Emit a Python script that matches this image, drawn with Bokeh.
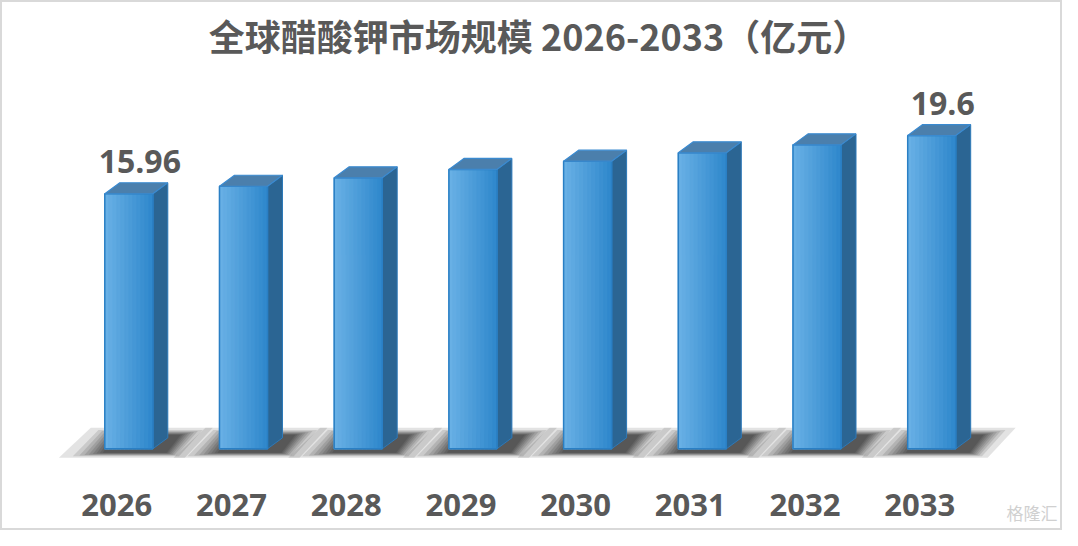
from bokeh.plotting import figure
from bokeh.models import Range1d, Label
from bokeh.core.properties import value
from bokeh.embed import file_html
from bokeh.resources import INLINE

years = ["2026", "2027", "2028", "2029", "2030", "2031", "2032", "2033"]
sizes = [15.96, 16.43, 16.96, 17.48, 18.00, 18.52, 19.02, 19.60]
shown_labels = {0: "15.96", 7: "19.6"}
title_text = "全球醋酸钾市场规模 2026-2033（亿元）"

W, H = 1062, 530
PX_X = 114.7   # px per category step
PX_Y = 15.98   # px per value unit
x0 = -128.3 / PX_X
y0 = -(H - 448.3) / PX_Y

p = figure(width=W, height=H, output_backend="svg", toolbar_location=None,
           x_range=Range1d(x0, x0 + W / PX_X), y_range=Range1d(y0, y0 + H / PX_Y),
           min_border=0, min_border_left=0, min_border_right=0,
           min_border_top=0, min_border_bottom=0)
p.axis.visible = False
p.grid.visible = False
p.outline_line_color = "#d9d9d9"
p.outline_line_width = 3
p.background_fill_color = "white"
p.border_fill_color = "white"

def dx(px):
    return px / PX_X

def dy(px):
    return px / PX_Y

half = dx(24)
sx = dx(15)
sy = dy(11)

# floor shadows (layered to fake blur), offsets in px relative to bar front-left / floor
outer = [(-46, -9), (80, -9), (108, 21), (-14, 21)]
inner = [(-2, -4), (62, -4), (76, 14), (10, 14)]
layers = 9
for i, v in enumerate(sizes):
    xl = i - half
    for k in range(layers):
        t = (k / (layers - 1)) ** 0.55
        xs, ys = [], []
        for (ox, oy), (ix, iy) in zip(outer, inner):
            xs.append(xl + dx(ox + (ix - ox) * t))
            ys.append(dy(oy + (iy - oy) * t))
        p.patch(xs, ys, fill_color="black", fill_alpha=0.11, line_color=None)

def lerp(c1, c2, t):
    a = [int(c1[j:j + 2], 16) for j in (1, 3, 5)]
    b = [int(c2[j:j + 2], 16) for j in (1, 3, 5)]
    return "#%02x%02x%02x" % tuple(int(round(a[n] + (b[n] - a[n]) * t)) for n in range(3))

strips = 12
for i, v in enumerate(sizes):
    xl, xr = i - half, i + half
    # side face
    p.patch([xr, xr + sx, xr + sx, xr], [0, sy, v + sy, v],
            fill_color="#2b6593", line_color="#2d79b8", line_width=1)
    # front face gradient
    for s in range(strips):
        a = xl + (xr - xl) * s / strips
        b = xl + (xr - xl) * (s + 1) / strips
        c = lerp("#68b0e5", "#3189cd", s / (strips - 1))
        p.quad(left=a, right=b, bottom=0, top=v,
               fill_color=c, line_color=c, line_width=1.2)
    p.quad(left=xl, right=xr, bottom=0, top=v, fill_color=None,
           line_color="#2a7fc4", line_width=1.5)
    # top face
    p.patch([xl, xr, xr + sx, xl + sx], [v, v, v + sy, v + sy],
            fill_color="#4b7fac", line_color="#3a8ad0", line_width=1.2)

# value labels
lx = [i + dx(11) for i in shown_labels]
ly = [sizes[i] + sy + dy(21) for i in shown_labels]
p.text(x=lx, y=ly, text=list(shown_labels.values()), text_align="center",
       text_baseline="alphabetic", text_font=value("Open Sans"),
       text_font_style="bold", text_font_size="32px", text_color="#595959")

# category labels
p.text(x=[i - dx(12) for i in range(len(years))], y=[dy(-56)] * len(years), text=years,
       text_align="center", text_baseline="middle", text_font=value("Open Sans"),
       text_font_style="bold", text_font_size="31px", text_color="#595959")

p.add_layout(Label(x=538, y=H - 34, x_units="screen", y_units="screen", text=title_text,
                   text_align="center", text_baseline="middle",
                   text_font="Noto Sans CJK SC", text_font_style="bold",
                   text_font_size="36px", text_color="#595959"))

p.add_layout(Label(x=W - 5, y=6, x_units="screen", y_units="screen", text="格隆汇",
                   text_align="right", text_baseline="bottom",
                   text_font="Noto Sans CJK SC", text_font_size="17px",
                   text_color="#d0d0d0"))

open("out.html", "w").write(file_html(p, INLINE))
